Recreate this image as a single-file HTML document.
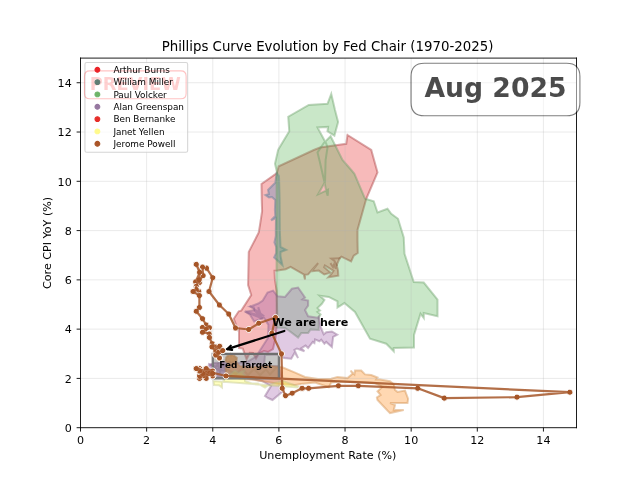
<!DOCTYPE html>
<html><head><meta charset="utf-8"><title>Phillips Curve</title>
<style>html,body{margin:0;padding:0;background:#fff}svg{display:block}</style></head>
<body>
<svg  width="640" height="480" viewBox="0 0 576 432" version="1.1">
 
 <defs>
  <style type="text/css">*{stroke-linejoin: round; stroke-linecap: butt}</style>
 </defs>
 <g id="figure_1">
  <g id="patch_1">
   <path d="M 0 432 
L 576 432 
L 576 0 
L 0 0 
z
" style="fill: #ffffff"/>
  </g>
  <g id="axes_1" transform="translate(0.450 0.450)">
   <g id="patch_2">
    <path d="M 72 384.48 
L 518.4 384.48 
L 518.4 51.84 
L 72 51.84 
z
" style="fill: #ffffff"/>
   </g>
   <g id="poly_burns">
    <path d="M 312.3 121.05 
L 333.675 134.55 
L 339.3 154.8 
L 329.175 178.425 
L 321.3 206.55 
L 321.3 215.55 
L 321.525 227.25 
L 317.925 229.59 
L 315.54 234.81 
L 306.81 230.58 
L 305.19 231.975 
L 302.625 238.14 
L 303.75 243.225 
L 304.02 247.725 
L 295.02 249.12 
L 297.81 246.06 
L 299.7 243.27 
L 291.96 238.41 
L 291.33 240.03 
L 297 244.89 
L 291.375 246.6 
L 286.425 243.09 
L 280.26 243.675 
L 285.84 236.34 
L 276.84 246.51 
L 274.05 246.825 
L 274.05 251.01 
L 272.925 246.51 
L 261.09 239.76 
L 256.725 241.875 
L 249.3 242.91 
L 246.6 243.225 
L 246.96 251.325 
L 248.625 261.45 
L 249.12 287.55 
L 247.5 303.75 
L 245.25 313.65 
L 240.75 316.35 
L 237.15 315.45 
L 232.65 317.7 
L 229.95 322.2 
L 227.25 317.25 
L 224.37 317.07 
L 221.49 323.01 
L 218.07 313.29 
L 214.65 312.84 
L 214.65 296.01 
L 213.84 296.55 
L 209.925 286.425 
L 214.425 279.675 
L 216.675 279.09 
L 225.675 265.05 
L 222.84 256.05 
L 223.425 226.26 
L 232.425 208.8 
L 233.55 202.05 
L 235.44 189.675 
L 235.125 179.55 
L 234.9 165.15 
L 248.76 155.34 
L 250.425 149.175 
L 281.925 134.55 
L 287.55 132.3 
L 311.175 128.925 
z
" clip-path="url(#pa79f2f6976)" style="fill: #e41a1c; fill-opacity: 0.3; stroke-opacity: 0.3"/>
   </g>
   <g id="line2d_1">
    <path d="M 312.3 121.05 
L 333.675 134.55 
L 339.3 154.8 
L 329.175 178.425 
L 321.3 206.55 
L 321.3 215.55 
L 321.525 227.25 
L 317.925 229.59 
L 315.54 234.81 
L 306.81 230.58 
L 305.19 231.975 
L 302.625 238.14 
L 303.75 243.225 
L 304.02 247.725 
L 295.02 249.12 
L 297.81 246.06 
L 299.7 243.27 
L 291.96 238.41 
L 291.33 240.03 
L 297 244.89 
L 291.375 246.6 
L 286.425 243.09 
L 280.26 243.675 
L 285.84 236.34 
L 276.84 246.51 
L 274.05 246.825 
L 274.05 251.01 
L 272.925 246.51 
L 261.09 239.76 
L 256.725 241.875 
L 249.3 242.91 
L 246.6 243.225 
L 246.96 251.325 
L 248.625 261.45 
L 249.12 287.55 
L 247.5 303.75 
L 245.25 313.65 
L 240.75 316.35 
L 237.15 315.45 
L 232.65 317.7 
L 229.95 322.2 
L 227.25 317.25 
L 224.37 317.07 
L 221.49 323.01 
L 218.07 313.29 
L 214.65 312.84 
L 214.65 296.01 
L 213.84 296.55 
L 209.925 286.425 
L 214.425 279.675 
L 216.675 279.09 
L 225.675 265.05 
L 222.84 256.05 
L 223.425 226.26 
L 232.425 208.8 
L 233.55 202.05 
L 235.44 189.675 
L 235.125 179.55 
L 234.9 165.15 
L 248.76 155.34 
L 250.425 149.175 
L 281.925 134.55 
L 287.55 132.3 
L 311.175 128.925 
L 312.3 121.05 
" clip-path="url(#pa79f2f6976)" style="fill: none; stroke: #a43536; stroke-opacity: 0.42; stroke-width: 1.8; stroke-linejoin: miter; stroke-linecap: square"/>
   </g>
   <g id="line2d_2">
    <path d="M 305.19 231.975 
L 297.81 232.29 
L 300.6 234.45 
L 302.625 238.14 
" clip-path="url(#pa79f2f6976)" style="fill: none; stroke: #a43536; stroke-opacity: 0.42; stroke-width: 1.8; stroke-linejoin: miter; stroke-linecap: square"/>
   </g>
   <g id="line2d_3">
    <path d="M 297.45 237.15 
L 299.25 239.85 
L 300.15 237.6 
L 301.5 240.75 
" clip-path="url(#pa79f2f6976)" style="fill: none; stroke: #a43536; stroke-opacity: 0.42; stroke-width: 1.8; stroke-linejoin: miter; stroke-linecap: square"/>
   </g>
   <g id="poly_miller">
    <path d="M 248.625 155.25 
L 247.275 164.025 
L 240.84 170.46 
L 241.56 174.15 
L 238.5 175.14 
L 241.56 177.21 
L 244.26 176.85 
L 247.275 179.55 
L 246.96 188.55 
L 247.275 193.95 
L 243.54 197.775 
L 247.95 195.75 
L 247.77 205.875 
L 247.77 211.95 
L 246.51 217.71 
L 248.13 221.85 
L 248.13 227.25 
L 246.24 231.21 
L 248.85 233.55 
L 253.71 238.14 
L 252 229.95 
L 252 226.35 
L 257.04 224.46 
L 252 221.85 
L 251.37 206.55 
L 251.19 179.55 
L 250.65 157.95 
z
" clip-path="url(#pa79f2f6976)" style="fill: #377eb8; fill-opacity: 0.3; stroke-opacity: 0.3"/>
   </g>
   <g id="line2d_4">
    <path d="M 248.625 155.25 
L 247.275 164.025 
L 240.84 170.46 
L 241.56 174.15 
L 238.5 175.14 
L 241.56 177.21 
L 244.26 176.85 
L 247.275 179.55 
L 246.96 188.55 
L 247.275 193.95 
L 243.54 197.775 
L 247.95 195.75 
L 247.77 205.875 
L 247.77 211.95 
L 246.51 217.71 
L 248.13 221.85 
L 248.13 227.25 
L 246.24 231.21 
L 248.85 233.55 
L 253.71 238.14 
L 252 229.95 
L 252 226.35 
L 257.04 224.46 
L 252 221.85 
L 251.37 206.55 
L 251.19 179.55 
L 250.65 157.95 
L 248.625 155.25 
" clip-path="url(#pa79f2f6976)" style="fill: none; stroke: #507797; stroke-opacity: 0.42; stroke-width: 1.8; stroke-linejoin: miter; stroke-linecap: square"/>
   </g>
   <g id="poly_volcker">
    <path d="M 248.49 158.85 
L 248.76 154.26 
L 247.05 146.925 
L 249.84 134.55 
L 250.425 133.425 
L 259.875 117.675 
L 258.975 104.625 
L 277.425 94.05 
L 294.3 92.925 
L 297.675 84.15 
L 301.05 98.55 
L 303.84 109.26 
L 300.51 121.59 
L 294.3 117.675 
L 294.84 113.76 
L 285.3 114.3 
L 293.175 128.925 
L 294.3 132.3 
L 292.59 143.55 
L 292.05 163.35 
L 285.84 174.42 
L 293.04 171.09 
L 294.75 170.19 
L 294.48 175.59 
L 293.04 171.09 
L 291.6 163.62 
L 287.01 143.55 
L 285.3 136.8 
L 290.925 128.34 
L 297.09 122.175 
L 301.05 130.05 
L 307.8 143.55 
L 315.675 152.55 
L 318.51 155.925 
L 328.05 178.425 
L 335.925 180.675 
L 339.3 190.8 
L 348.3 187.425 
L 351.675 191.925 
L 357.75 196.425 
L 362.925 213.3 
L 363.6 227.925 
L 371.925 253.35 
L 380.925 253.8 
L 393.3 269.1 
L 393.3 284.175 
L 380.925 281.25 
L 380.925 285.75 
L 378 281.925 
L 372.15 301.05 
L 372.15 312.3 
L 353.925 312.75 
L 353.925 315.675 
L 347.175 308.925 
L 332.55 304.425 
L 319.05 280.26 
L 309.51 272.34 
L 303.3 276.3 
L 303.3 270.675 
L 295.425 266.76 
L 287.19 265.68 
L 291.51 269.55 
L 289.26 272.925 
L 285.3 276.84 
L 287.55 279.09 
L 285.3 280.26 
L 288.09 282.51 
L 286.425 285.3 
L 286.425 296.55 
L 279.09 296.01 
L 276.84 299.34 
L 270.675 299.34 
L 267.84 303.3 
L 258.84 296.55 
L 256.05 294.84 
L 248.49 294.3 
z
" clip-path="url(#pa79f2f6976)" style="fill: #4daf4a; fill-opacity: 0.3; stroke-opacity: 0.3"/>
   </g>
   <g id="line2d_5">
    <path d="M 248.49 158.85 
L 248.76 154.26 
L 247.05 146.925 
L 249.84 134.55 
L 250.425 133.425 
L 259.875 117.675 
L 258.975 104.625 
L 277.425 94.05 
L 294.3 92.925 
L 297.675 84.15 
L 301.05 98.55 
L 303.84 109.26 
L 300.51 121.59 
L 294.3 117.675 
L 294.84 113.76 
L 285.3 114.3 
L 293.175 128.925 
L 294.3 132.3 
L 292.59 143.55 
L 292.05 163.35 
L 285.84 174.42 
L 293.04 171.09 
L 294.75 170.19 
L 294.48 175.59 
L 293.04 171.09 
L 291.6 163.62 
L 287.01 143.55 
L 285.3 136.8 
L 290.925 128.34 
L 297.09 122.175 
L 301.05 130.05 
L 307.8 143.55 
L 315.675 152.55 
L 318.51 155.925 
L 328.05 178.425 
L 335.925 180.675 
L 339.3 190.8 
L 348.3 187.425 
L 351.675 191.925 
L 357.75 196.425 
L 362.925 213.3 
L 363.6 227.925 
L 371.925 253.35 
L 380.925 253.8 
L 393.3 269.1 
L 393.3 284.175 
L 380.925 281.25 
L 380.925 285.75 
L 378 281.925 
L 372.15 301.05 
L 372.15 312.3 
L 353.925 312.75 
L 353.925 315.675 
L 347.175 308.925 
L 332.55 304.425 
L 319.05 280.26 
L 309.51 272.34 
L 303.3 276.3 
L 303.3 270.675 
L 295.425 266.76 
L 287.19 265.68 
L 291.51 269.55 
L 289.26 272.925 
L 285.3 276.84 
L 287.55 279.09 
L 285.3 280.26 
L 288.09 282.51 
L 286.425 285.3 
L 286.425 296.55 
L 279.09 296.01 
L 276.84 299.34 
L 270.675 299.34 
L 267.84 303.3 
L 258.84 296.55 
L 256.05 294.84 
L 248.49 294.3 
L 248.49 158.85 
" clip-path="url(#pa79f2f6976)" style="fill: none; stroke: #679d65; stroke-opacity: 0.42; stroke-width: 1.8; stroke-linejoin: miter; stroke-linecap: square"/>
   </g>
   <g id="poly_greenspan">
    <path d="M 220.5 280.125 
L 228.24 278.775 
L 227.925 276.075 
L 224.91 275.4 
L 231.975 272.7 
L 236.025 270 
L 240.3 262.8 
L 245.34 261.09 
L 249.3 266.175 
L 256.05 266.76 
L 262.26 259.425 
L 267.84 258.3 
L 274.05 267.3 
L 271.8 269.01 
L 276.84 270.09 
L 276.84 274.59 
L 274.05 278.55 
L 276.84 284.175 
L 285.3 285.525 
L 286.425 284.4 
L 288.09 293.76 
L 290.925 300.51 
L 293.175 298.575 
L 298.26 297.9 
L 303.075 300.825 
L 299.34 302.76 
L 298.26 311.76 
L 293.175 307.26 
L 291.51 308.925 
L 288.675 305.325 
L 287.01 306.675 
L 283.05 305.01 
L 282.51 308.34 
L 281.025 307.26 
L 276.84 312.84 
L 274.59 310.59 
L 270.675 312.84 
L 273.51 315.675 
L 266.76 313.2 
L 264.51 314.55 
L 267.84 321.84 
L 264.825 316.8 
L 261.675 322.425 
L 255.15 321.75 
L 252.45 318.6 
L 238.05 319.05 
L 237.15 328.95 
L 250.65 328.95 
L 252.45 337.05 
L 255.15 350.1 
L 253.35 352.35 
L 244.8 359.55 
L 240.75 357.75 
L 238.05 355.95 
L 243.45 346.95 
L 235.35 342.45 
L 226.35 340.65 
L 215.55 338.85 
L 208.35 337.95 
L 199.35 339.3 
L 190.35 338.85 
L 186.75 334.35 
L 187.2 328.95 
L 192.15 326.25 
L 204.75 325.35 
L 212.85 326.25 
L 221.85 325.35 
L 229.95 320.4 
L 240.84 303.57 
L 241.11 291.96 
L 237.15 285.75 
L 235.35 286.2 
L 228.24 288.9 
L 224.55 282.825 
z
" clip-path="url(#pa79f2f6976)" style="fill: #984ea3; fill-opacity: 0.3; stroke-opacity: 0.3"/>
   </g>
   <g id="line2d_6">
    <path d="M 220.5 280.125 
L 228.24 278.775 
L 227.925 276.075 
L 224.91 275.4 
L 231.975 272.7 
L 236.025 270 
L 240.3 262.8 
L 245.34 261.09 
L 249.3 266.175 
L 256.05 266.76 
L 262.26 259.425 
L 267.84 258.3 
L 274.05 267.3 
L 271.8 269.01 
L 276.84 270.09 
L 276.84 274.59 
L 274.05 278.55 
L 276.84 284.175 
L 285.3 285.525 
L 286.425 284.4 
L 288.09 293.76 
L 290.925 300.51 
L 293.175 298.575 
L 298.26 297.9 
L 303.075 300.825 
L 299.34 302.76 
L 298.26 311.76 
L 293.175 307.26 
L 291.51 308.925 
L 288.675 305.325 
L 287.01 306.675 
L 283.05 305.01 
L 282.51 308.34 
L 281.025 307.26 
L 276.84 312.84 
L 274.59 310.59 
L 270.675 312.84 
L 273.51 315.675 
L 266.76 313.2 
L 264.51 314.55 
L 267.84 321.84 
L 264.825 316.8 
L 261.675 322.425 
L 255.15 321.75 
L 252.45 318.6 
L 238.05 319.05 
L 237.15 328.95 
L 250.65 328.95 
L 252.45 337.05 
L 255.15 350.1 
L 253.35 352.35 
L 244.8 359.55 
L 240.75 357.75 
L 238.05 355.95 
L 243.45 346.95 
L 235.35 342.45 
L 226.35 340.65 
L 215.55 338.85 
L 208.35 337.95 
L 199.35 339.3 
L 190.35 338.85 
L 186.75 334.35 
L 187.2 328.95 
L 192.15 326.25 
L 204.75 325.35 
L 212.85 326.25 
L 221.85 325.35 
L 229.95 320.4 
L 240.84 303.57 
L 241.11 291.96 
L 237.15 285.75 
L 235.35 286.2 
L 228.24 288.9 
L 224.55 282.825 
L 220.5 280.125 
" clip-path="url(#pa79f2f6976)" style="fill: none; stroke: #855c8b; stroke-opacity: 0.42; stroke-width: 1.8; stroke-linejoin: miter; stroke-linecap: square"/>
   </g>
   <g id="patch_3">
    <path d="M 187.2 327.15 
L 192.15 325.8 
L 202.95 326.25 
L 203.85 332.55 
L 201.15 337.95 
L 191.25 338.4 
L 190.35 332.55 
z
" clip-path="url(#pa79f2f6976)" style="fill: #984ea3; opacity: 0.3"/>
   </g>
   <g id="line2d_7">
    <path d="M 187.65 327.15 
L 192.15 328.95 
L 190.8 333.45 
L 195.75 327.15 
L 197.55 334.35 
L 200.25 327.15 
L 202.5 333.45 
L 192.15 331.65 
L 202.95 329.85 
" clip-path="url(#pa79f2f6976)" style="fill: none; stroke: #855c8b; stroke-opacity: 0.42; stroke-width: 1.8; stroke-linejoin: miter; stroke-linecap: square"/>
   </g>
   <g id="line2d_8">
    <path d="M 224.91 275.4 
L 237.375 284.175 
L 228.24 278.775 
L 236.025 286.2 
L 220.5 280.125 
L 234.675 283.86 
L 231.975 276.075 
L 233.01 281.475 
" clip-path="url(#pa79f2f6976)" style="fill: none; stroke: #855c8b; stroke-opacity: 0.42; stroke-width: 1.8; stroke-linejoin: miter; stroke-linecap: square"/>
   </g>
   <g id="poly_bernanke">
    <path d="M 202.95 337.95 
L 202.5 330.75 
L 204.75 327.15 
L 202.5 323.55 
L 203.85 319.95 
L 208.35 319.05 
L 212.85 321.75 
L 211.95 325.35 
L 215.55 328.95 
L 224.55 329.85 
L 235.35 329.4 
L 244.35 328.95 
L 254.25 330.3 
L 266.175 335.34 
L 274.05 338.85 
L 285.75 340.65 
L 297.675 340.425 
L 303.3 338.76 
L 312.3 339.84 
L 316.8 335.925 
L 315.09 333.09 
L 318.51 336.51 
L 319.05 333.09 
L 324.675 333.09 
L 328.05 336.51 
L 333.675 337.05 
L 339.3 339.3 
L 338.175 341.01 
L 341.55 341.01 
L 350.55 342.675 
L 353.925 345.51 
L 355.05 350.55 
L 357.3 352.26 
L 364.05 351.09 
L 366.84 358.425 
L 366.3 362.34 
L 350.55 362.34 
L 355.05 364.05 
L 353.925 368.55 
L 362.925 368.55 
L 350.55 371.34 
L 348.3 369.09 
L 339.3 359.55 
L 338.76 357.3 
L 342.09 355.05 
L 339.3 351.675 
L 343.8 347.76 
L 337.05 344.25 
L 323.55 343.35 
L 305.55 342.9 
L 297.675 343.8 
L 295.425 348.075 
L 283.05 343.8 
L 270.45 345.15 
L 265.05 346.05 
L 250.65 345.15 
L 229.05 341.55 
L 215.55 340.2 
z
" clip-path="url(#pa79f2f6976)" style="fill: #ff7f00; fill-opacity: 0.3; stroke-opacity: 0.3"/>
   </g>
   <g id="line2d_9">
    <path d="M 202.95 337.95 
L 202.5 330.75 
L 204.75 327.15 
L 202.5 323.55 
L 203.85 319.95 
L 208.35 319.05 
L 212.85 321.75 
L 211.95 325.35 
L 215.55 328.95 
L 224.55 329.85 
L 235.35 329.4 
L 244.35 328.95 
L 254.25 330.3 
L 266.175 335.34 
L 274.05 338.85 
L 285.75 340.65 
L 297.675 340.425 
L 303.3 338.76 
L 312.3 339.84 
L 316.8 335.925 
L 315.09 333.09 
L 318.51 336.51 
L 319.05 333.09 
L 324.675 333.09 
L 328.05 336.51 
L 333.675 337.05 
L 339.3 339.3 
L 338.175 341.01 
L 341.55 341.01 
L 350.55 342.675 
L 353.925 345.51 
L 355.05 350.55 
L 357.3 352.26 
L 364.05 351.09 
L 366.84 358.425 
L 366.3 362.34 
L 350.55 362.34 
L 355.05 364.05 
L 353.925 368.55 
L 362.925 368.55 
L 350.55 371.34 
L 348.3 369.09 
L 339.3 359.55 
L 338.76 357.3 
L 342.09 355.05 
L 339.3 351.675 
L 343.8 347.76 
L 337.05 344.25 
L 323.55 343.35 
L 305.55 342.9 
L 297.675 343.8 
L 295.425 348.075 
L 283.05 343.8 
L 270.45 345.15 
L 265.05 346.05 
L 250.65 345.15 
L 229.05 341.55 
L 215.55 340.2 
L 202.95 337.95 
" clip-path="url(#pa79f2f6976)" style="fill: none; stroke: #d08a44; stroke-opacity: 0.42; stroke-width: 1.8; stroke-linejoin: miter; stroke-linecap: square"/>
   </g>
   <g id="patch_4">
    <path d="M 202.95 337.95 
L 202.5 330.75 
L 204.75 327.15 
L 202.5 323.55 
L 203.85 319.95 
L 208.35 319.05 
L 212.85 321.75 
L 211.95 325.35 
L 215.55 328.95 
L 224.55 329.85 
L 235.35 329.4 
L 244.35 328.95 
L 250.65 329.85 
L 250.65 339.75 
L 229.05 339.75 
L 215.55 339.3 
z
" clip-path="url(#pa79f2f6976)" style="fill: #ff7f00; opacity: 0.3"/>
   </g>
   <g id="patch_5">
    <path d="M 202.77 324.9 
L 202.95 321.3 
L 205.65 319.32 
L 209.25 319.05 
L 212.4 321.3 
L 212.4 324.9 
L 207.45 325.8 
z
" clip-path="url(#pa79f2f6976)" style="fill: #ff7f00; opacity: 0.3"/>
   </g>
   <g id="line2d_10">
    <path d="M 202.95 324.45 
L 204.75 320.85 
L 206.55 324.45 
L 207.45 319.5 
L 209.25 324.45 
L 210.6 320.4 
L 211.95 324.9 
L 208.35 322.65 
L 203.85 323.1 
L 211.95 322.65 
" clip-path="url(#pa79f2f6976)" style="fill: none; stroke: #d08a44; stroke-opacity: 0.42; stroke-width: 1.8; stroke-linejoin: miter; stroke-linecap: square"/>
   </g>
   <g id="line2d_11">
    <path d="M 204.75 332.55 
L 211.95 336.15 
L 217.35 331.2 
L 222.75 337.05 
L 228.15 331.65 
L 233.55 337.05 
L 238.95 332.1 
L 242.55 336.6 
L 247.95 330.75 
" clip-path="url(#pa79f2f6976)" style="fill: none; stroke: #d08a44; stroke-opacity: 0.42; stroke-width: 1.8; stroke-linejoin: miter; stroke-linecap: square"/>
   </g>
   <g id="line2d_12">
    <path d="M 202.77 324.9 
L 202.95 321.3 
L 205.65 319.32 
L 209.25 319.05 
L 212.4 321.3 
L 212.4 324.9 
L 207.45 325.8 
L 202.77 324.9 
" clip-path="url(#pa79f2f6976)" style="fill: none; stroke: #d08a44; stroke-opacity: 0.42; stroke-width: 1.8; stroke-linejoin: miter; stroke-linecap: square"/>
   </g>
   <g id="poly_yellen">
    <path d="M 270.99 348.57 
L 261.45 345.15 
L 254.25 342.45 
L 247.05 344.25 
L 240.75 346.5 
L 238.05 348.3 
L 235.35 346.95 
L 231.75 344.7 
L 226.35 344.7 
L 220.05 342.45 
L 220.05 337.5 
L 217.35 335.25 
L 220.05 333 
L 214.38 335.25 
L 211.05 333 
L 208.35 335.25 
L 202.5 339.75 
L 199.35 344.25 
L 199.35 348.3 
L 196.65 346.32 
L 192.15 346.05 
L 191.7 342.45 
z
" clip-path="url(#pa79f2f6976)" style="fill: #ffff33; fill-opacity: 0.3; stroke-opacity: 0.3"/>
   </g>
   <g id="line2d_13">
    <path d="M 270.99 348.57 
L 261.45 345.15 
L 254.25 342.45 
L 247.05 344.25 
L 240.75 346.5 
L 238.05 348.3 
L 235.35 346.95 
L 231.75 344.7 
L 226.35 344.7 
L 220.05 342.45 
L 220.05 337.5 
L 217.35 335.25 
L 220.05 333 
L 214.38 335.25 
L 211.05 333 
L 208.35 335.25 
L 202.5 339.75 
L 199.35 344.25 
L 199.35 348.3 
L 196.65 346.32 
L 192.15 346.05 
L 191.7 342.45 
L 270.99 348.57 
" clip-path="url(#pa79f2f6976)" style="fill: none; stroke: #bec384; stroke-opacity: 0.42; stroke-width: 1.8; stroke-linejoin: miter; stroke-linecap: square"/>
   </g>
   <g id="patch_6">
    <path d="M 191.04 340.128 
L 250.56 340.128 
L 250.56 317.952 
L 191.04 317.952 
z
" clip-path="url(#pa79f2f6976)" style="fill: #808080; fill-opacity: 0.45; stroke: #6e6e6e; stroke-width: 2; stroke-linejoin: miter"/>
   </g>
   <g id="matplotlib.axis_1">
    <g id="xtick_1">
     <g id="line2d_14">
      <path d="M 72 384.48 
L 72 51.84 
" clip-path="url(#pa79f2f6976)" style="fill: none; stroke: #b0b0b0; stroke-opacity: 0.3; stroke-width: 0.8; stroke-linecap: square"/>
     </g>
     <g id="line2d_15">
      <defs>
       <path id="m74b1d1c687" d="M 0 0 
L 0 3.5 
" style="stroke: #000000; stroke-width: 0.8"/>
      </defs>
      <g>
       <use href="#m74b1d1c687" x="72" y="384.48" style="stroke: #000000; stroke-width: 0.8"/>
      </g>
     </g>
     <g id="text_1">
      <text style="font-size: 10px; font-family: 'DejaVu Sans', 'Bitstream Vera Sans', 'Computer Modern Sans Serif', 'Lucida Grande', 'Verdana', 'Geneva', 'Lucid', 'Arial', 'Helvetica', 'Avant Garde', sans-serif; text-anchor: middle" x="72" y="399.078438" transform="rotate(-0 72 399.078438)">0</text>
     </g>
    </g>
    <g id="xtick_2">
     <g id="line2d_16">
      <path d="M 131.52 384.48 
L 131.52 51.84 
" clip-path="url(#pa79f2f6976)" style="fill: none; stroke: #b0b0b0; stroke-opacity: 0.3; stroke-width: 0.8; stroke-linecap: square"/>
     </g>
     <g id="line2d_17">
      <g>
       <use href="#m74b1d1c687" x="131.52" y="384.48" style="stroke: #000000; stroke-width: 0.8"/>
      </g>
     </g>
     <g id="text_2">
      <text style="font-size: 10px; font-family: 'DejaVu Sans', 'Bitstream Vera Sans', 'Computer Modern Sans Serif', 'Lucida Grande', 'Verdana', 'Geneva', 'Lucid', 'Arial', 'Helvetica', 'Avant Garde', sans-serif; text-anchor: middle" x="131.52" y="399.078438" transform="rotate(-0 131.52 399.078438)">2</text>
     </g>
    </g>
    <g id="xtick_3">
     <g id="line2d_18">
      <path d="M 191.04 384.48 
L 191.04 51.84 
" clip-path="url(#pa79f2f6976)" style="fill: none; stroke: #b0b0b0; stroke-opacity: 0.3; stroke-width: 0.8; stroke-linecap: square"/>
     </g>
     <g id="line2d_19">
      <g>
       <use href="#m74b1d1c687" x="191.04" y="384.48" style="stroke: #000000; stroke-width: 0.8"/>
      </g>
     </g>
     <g id="text_3">
      <text style="font-size: 10px; font-family: 'DejaVu Sans', 'Bitstream Vera Sans', 'Computer Modern Sans Serif', 'Lucida Grande', 'Verdana', 'Geneva', 'Lucid', 'Arial', 'Helvetica', 'Avant Garde', sans-serif; text-anchor: middle" x="191.04" y="399.078438" transform="rotate(-0 191.04 399.078438)">4</text>
     </g>
    </g>
    <g id="xtick_4">
     <g id="line2d_20">
      <path d="M 250.56 384.48 
L 250.56 51.84 
" clip-path="url(#pa79f2f6976)" style="fill: none; stroke: #b0b0b0; stroke-opacity: 0.3; stroke-width: 0.8; stroke-linecap: square"/>
     </g>
     <g id="line2d_21">
      <g>
       <use href="#m74b1d1c687" x="250.56" y="384.48" style="stroke: #000000; stroke-width: 0.8"/>
      </g>
     </g>
     <g id="text_4">
      <text style="font-size: 10px; font-family: 'DejaVu Sans', 'Bitstream Vera Sans', 'Computer Modern Sans Serif', 'Lucida Grande', 'Verdana', 'Geneva', 'Lucid', 'Arial', 'Helvetica', 'Avant Garde', sans-serif; text-anchor: middle" x="250.56" y="399.078438" transform="rotate(-0 250.56 399.078438)">6</text>
     </g>
    </g>
    <g id="xtick_5">
     <g id="line2d_22">
      <path d="M 310.08 384.48 
L 310.08 51.84 
" clip-path="url(#pa79f2f6976)" style="fill: none; stroke: #b0b0b0; stroke-opacity: 0.3; stroke-width: 0.8; stroke-linecap: square"/>
     </g>
     <g id="line2d_23">
      <g>
       <use href="#m74b1d1c687" x="310.08" y="384.48" style="stroke: #000000; stroke-width: 0.8"/>
      </g>
     </g>
     <g id="text_5">
      <text style="font-size: 10px; font-family: 'DejaVu Sans', 'Bitstream Vera Sans', 'Computer Modern Sans Serif', 'Lucida Grande', 'Verdana', 'Geneva', 'Lucid', 'Arial', 'Helvetica', 'Avant Garde', sans-serif; text-anchor: middle" x="310.08" y="399.078438" transform="rotate(-0 310.08 399.078438)">8</text>
     </g>
    </g>
    <g id="xtick_6">
     <g id="line2d_24">
      <path d="M 369.6 384.48 
L 369.6 51.84 
" clip-path="url(#pa79f2f6976)" style="fill: none; stroke: #b0b0b0; stroke-opacity: 0.3; stroke-width: 0.8; stroke-linecap: square"/>
     </g>
     <g id="line2d_25">
      <g>
       <use href="#m74b1d1c687" x="369.6" y="384.48" style="stroke: #000000; stroke-width: 0.8"/>
      </g>
     </g>
     <g id="text_6">
      <text style="font-size: 10px; font-family: 'DejaVu Sans', 'Bitstream Vera Sans', 'Computer Modern Sans Serif', 'Lucida Grande', 'Verdana', 'Geneva', 'Lucid', 'Arial', 'Helvetica', 'Avant Garde', sans-serif; text-anchor: middle" x="369.6" y="399.078438" transform="rotate(-0 369.6 399.078438)">10</text>
     </g>
    </g>
    <g id="xtick_7">
     <g id="line2d_26">
      <path d="M 429.12 384.48 
L 429.12 51.84 
" clip-path="url(#pa79f2f6976)" style="fill: none; stroke: #b0b0b0; stroke-opacity: 0.3; stroke-width: 0.8; stroke-linecap: square"/>
     </g>
     <g id="line2d_27">
      <g>
       <use href="#m74b1d1c687" x="429.12" y="384.48" style="stroke: #000000; stroke-width: 0.8"/>
      </g>
     </g>
     <g id="text_7">
      <text style="font-size: 10px; font-family: 'DejaVu Sans', 'Bitstream Vera Sans', 'Computer Modern Sans Serif', 'Lucida Grande', 'Verdana', 'Geneva', 'Lucid', 'Arial', 'Helvetica', 'Avant Garde', sans-serif; text-anchor: middle" x="429.12" y="399.078438" transform="rotate(-0 429.12 399.078438)">12</text>
     </g>
    </g>
    <g id="xtick_8">
     <g id="line2d_28">
      <path d="M 488.64 384.48 
L 488.64 51.84 
" clip-path="url(#pa79f2f6976)" style="fill: none; stroke: #b0b0b0; stroke-opacity: 0.3; stroke-width: 0.8; stroke-linecap: square"/>
     </g>
     <g id="line2d_29">
      <g>
       <use href="#m74b1d1c687" x="488.64" y="384.48" style="stroke: #000000; stroke-width: 0.8"/>
      </g>
     </g>
     <g id="text_8">
      <text style="font-size: 10px; font-family: 'DejaVu Sans', 'Bitstream Vera Sans', 'Computer Modern Sans Serif', 'Lucida Grande', 'Verdana', 'Geneva', 'Lucid', 'Arial', 'Helvetica', 'Avant Garde', sans-serif; text-anchor: middle" x="488.64" y="399.078438" transform="rotate(-0 488.64 399.078438)">14</text>
     </g>
    </g>
    <g id="text_9">
     <text style="font-size: 10px; font-family: 'DejaVu Sans', 'Bitstream Vera Sans', 'Computer Modern Sans Serif', 'Lucida Grande', 'Verdana', 'Geneva', 'Lucid', 'Arial', 'Helvetica', 'Avant Garde', sans-serif; text-anchor: middle" x="294.57504" y="412.756563" transform="rotate(-0 294.57504 412.756563)">Unemployment Rate (%)</text>
    </g>
   </g>
   <g id="matplotlib.axis_2">
    <g id="ytick_1">
     <g id="line2d_30">
      <path d="M 72 384.48 
L 518.4 384.48 
" clip-path="url(#pa79f2f6976)" style="fill: none; stroke: #b0b0b0; stroke-opacity: 0.3; stroke-width: 0.8; stroke-linecap: square"/>
     </g>
     <g id="line2d_31">
      <defs>
       <path id="m5087340eee" d="M 0 0 
L -3.5 0 
" style="stroke: #000000; stroke-width: 0.8"/>
      </defs>
      <g>
       <use href="#m5087340eee" x="72" y="384.48" style="stroke: #000000; stroke-width: 0.8"/>
      </g>
     </g>
     <g id="text_10">
      <text style="font-size: 10px; font-family: 'DejaVu Sans', 'Bitstream Vera Sans', 'Computer Modern Sans Serif', 'Lucida Grande', 'Verdana', 'Geneva', 'Lucid', 'Arial', 'Helvetica', 'Avant Garde', sans-serif; text-anchor: end" x="64.1" y="388.279219" transform="rotate(-0 64.1 388.279219)">0</text>
     </g>
    </g>
    <g id="ytick_2">
     <g id="line2d_32">
      <path d="M 72 340.128 
L 518.4 340.128 
" clip-path="url(#pa79f2f6976)" style="fill: none; stroke: #b0b0b0; stroke-opacity: 0.3; stroke-width: 0.8; stroke-linecap: square"/>
     </g>
     <g id="line2d_33">
      <g>
       <use href="#m5087340eee" x="72" y="340.128" style="stroke: #000000; stroke-width: 0.8"/>
      </g>
     </g>
     <g id="text_11">
      <text style="font-size: 10px; font-family: 'DejaVu Sans', 'Bitstream Vera Sans', 'Computer Modern Sans Serif', 'Lucida Grande', 'Verdana', 'Geneva', 'Lucid', 'Arial', 'Helvetica', 'Avant Garde', sans-serif; text-anchor: end" x="64.1" y="343.927219" transform="rotate(-0 64.1 343.927219)">2</text>
     </g>
    </g>
    <g id="ytick_3">
     <g id="line2d_34">
      <path d="M 72 295.776 
L 518.4 295.776 
" clip-path="url(#pa79f2f6976)" style="fill: none; stroke: #b0b0b0; stroke-opacity: 0.3; stroke-width: 0.8; stroke-linecap: square"/>
     </g>
     <g id="line2d_35">
      <g>
       <use href="#m5087340eee" x="72" y="295.776" style="stroke: #000000; stroke-width: 0.8"/>
      </g>
     </g>
     <g id="text_12">
      <text style="font-size: 10px; font-family: 'DejaVu Sans', 'Bitstream Vera Sans', 'Computer Modern Sans Serif', 'Lucida Grande', 'Verdana', 'Geneva', 'Lucid', 'Arial', 'Helvetica', 'Avant Garde', sans-serif; text-anchor: end" x="64.1" y="299.575219" transform="rotate(-0 64.1 299.575219)">4</text>
     </g>
    </g>
    <g id="ytick_4">
     <g id="line2d_36">
      <path d="M 72 251.424 
L 518.4 251.424 
" clip-path="url(#pa79f2f6976)" style="fill: none; stroke: #b0b0b0; stroke-opacity: 0.3; stroke-width: 0.8; stroke-linecap: square"/>
     </g>
     <g id="line2d_37">
      <g>
       <use href="#m5087340eee" x="72" y="251.424" style="stroke: #000000; stroke-width: 0.8"/>
      </g>
     </g>
     <g id="text_13">
      <text style="font-size: 10px; font-family: 'DejaVu Sans', 'Bitstream Vera Sans', 'Computer Modern Sans Serif', 'Lucida Grande', 'Verdana', 'Geneva', 'Lucid', 'Arial', 'Helvetica', 'Avant Garde', sans-serif; text-anchor: end" x="64.1" y="255.223219" transform="rotate(-0 64.1 255.223219)">6</text>
     </g>
    </g>
    <g id="ytick_5">
     <g id="line2d_38">
      <path d="M 72 207.072 
L 518.4 207.072 
" clip-path="url(#pa79f2f6976)" style="fill: none; stroke: #b0b0b0; stroke-opacity: 0.3; stroke-width: 0.8; stroke-linecap: square"/>
     </g>
     <g id="line2d_39">
      <g>
       <use href="#m5087340eee" x="72" y="207.072" style="stroke: #000000; stroke-width: 0.8"/>
      </g>
     </g>
     <g id="text_14">
      <text style="font-size: 10px; font-family: 'DejaVu Sans', 'Bitstream Vera Sans', 'Computer Modern Sans Serif', 'Lucida Grande', 'Verdana', 'Geneva', 'Lucid', 'Arial', 'Helvetica', 'Avant Garde', sans-serif; text-anchor: end" x="64.1" y="210.871219" transform="rotate(-0 64.1 210.871219)">8</text>
     </g>
    </g>
    <g id="ytick_6">
     <g id="line2d_40">
      <path d="M 72 162.72 
L 518.4 162.72 
" clip-path="url(#pa79f2f6976)" style="fill: none; stroke: #b0b0b0; stroke-opacity: 0.3; stroke-width: 0.8; stroke-linecap: square"/>
     </g>
     <g id="line2d_41">
      <g>
       <use href="#m5087340eee" x="72" y="162.72" style="stroke: #000000; stroke-width: 0.8"/>
      </g>
     </g>
     <g id="text_15">
      <text style="font-size: 10px; font-family: 'DejaVu Sans', 'Bitstream Vera Sans', 'Computer Modern Sans Serif', 'Lucida Grande', 'Verdana', 'Geneva', 'Lucid', 'Arial', 'Helvetica', 'Avant Garde', sans-serif; text-anchor: end" x="64.1" y="166.519219" transform="rotate(-0 64.1 166.519219)">10</text>
     </g>
    </g>
    <g id="ytick_7">
     <g id="line2d_42">
      <path d="M 72 118.368 
L 518.4 118.368 
" clip-path="url(#pa79f2f6976)" style="fill: none; stroke: #b0b0b0; stroke-opacity: 0.3; stroke-width: 0.8; stroke-linecap: square"/>
     </g>
     <g id="line2d_43">
      <g>
       <use href="#m5087340eee" x="72" y="118.368" style="stroke: #000000; stroke-width: 0.8"/>
      </g>
     </g>
     <g id="text_16">
      <text style="font-size: 10px; font-family: 'DejaVu Sans', 'Bitstream Vera Sans', 'Computer Modern Sans Serif', 'Lucida Grande', 'Verdana', 'Geneva', 'Lucid', 'Arial', 'Helvetica', 'Avant Garde', sans-serif; text-anchor: end" x="64.1" y="122.167219" transform="rotate(-0 64.1 122.167219)">12</text>
     </g>
    </g>
    <g id="ytick_8">
     <g id="line2d_44">
      <path d="M 72 74.016 
L 518.4 74.016 
" clip-path="url(#pa79f2f6976)" style="fill: none; stroke: #b0b0b0; stroke-opacity: 0.3; stroke-width: 0.8; stroke-linecap: square"/>
     </g>
     <g id="line2d_45">
      <g>
       <use href="#m5087340eee" x="72" y="74.016" style="stroke: #000000; stroke-width: 0.8"/>
      </g>
     </g>
     <g id="text_17">
      <text style="font-size: 10px; font-family: 'DejaVu Sans', 'Bitstream Vera Sans', 'Computer Modern Sans Serif', 'Lucida Grande', 'Verdana', 'Geneva', 'Lucid', 'Arial', 'Helvetica', 'Avant Garde', sans-serif; text-anchor: end" x="64.1" y="77.815219" transform="rotate(-0 64.1 77.815219)">14</text>
     </g>
    </g>
    <g id="text_18">
     <text style="font-size: 10px; font-family: 'DejaVu Sans', 'Bitstream Vera Sans', 'Computer Modern Sans Serif', 'Lucida Grande', 'Verdana', 'Geneva', 'Lucid', 'Arial', 'Helvetica', 'Avant Garde', sans-serif; text-anchor: middle" x="45.195312" y="218.16" transform="rotate(-90 45.195312 218.16)">Core CPI YoY (%)</text>
    </g>
   </g>
   <g id="PathCollection_1">
    <defs>
     <path id="mc5816dc0cf" d="M 0 2.738613 
C 0.726289 2.738613 1.422928 2.450055 1.936492 1.936492 
C 2.450055 1.422928 2.738613 0.726289 2.738613 0 
C 2.738613 -0.726289 2.450055 -1.422928 1.936492 -1.936492 
C 1.422928 -2.450055 0.726289 -2.738613 0 -2.738613 
C -0.726289 -2.738613 -1.422928 -2.450055 -1.936492 -1.936492 
C -2.450055 -1.422928 -2.738613 -0.726289 -2.738613 0 
C -2.738613 0.726289 -2.450055 1.422928 -1.936492 1.936492 
C -1.422928 2.450055 -0.726289 2.738613 0 2.738613 
z
" style="stroke: #ffffff; stroke-width: 0.9"/>
    </defs>
    <g clip-path="url(#pa79f2f6976)">
     <use href="#mc5816dc0cf" x="191.04" y="337.9104" style="fill: #a65628; stroke: #ffffff; stroke-width: 0.9"/>
     <use href="#mc5816dc0cf" x="191.04" y="337.9104" style="fill: #a65628; stroke: #ffffff; stroke-width: 0.9"/>
     <use href="#mc5816dc0cf" x="185.088" y="335.6928" style="fill: #a65628; stroke: #ffffff; stroke-width: 0.9"/>
     <use href="#mc5816dc0cf" x="191.04" y="333.4752" style="fill: #a65628; stroke: #ffffff; stroke-width: 0.9"/>
     <use href="#mc5816dc0cf" x="185.088" y="331.2576" style="fill: #a65628; stroke: #ffffff; stroke-width: 0.9"/>
     <use href="#mc5816dc0cf" x="185.088" y="335.6928" style="fill: #a65628; stroke: #ffffff; stroke-width: 0.9"/>
     <use href="#mc5816dc0cf" x="182.112" y="335.6928" style="fill: #a65628; stroke: #ffffff; stroke-width: 0.9"/>
     <use href="#mc5816dc0cf" x="185.088" y="337.9104" style="fill: #a65628; stroke: #ffffff; stroke-width: 0.9"/>
     <use href="#mc5816dc0cf" x="185.088" y="335.6928" style="fill: #a65628; stroke: #ffffff; stroke-width: 0.9"/>
     <use href="#mc5816dc0cf" x="188.064" y="335.6928" style="fill: #a65628; stroke: #ffffff; stroke-width: 0.9"/>
     <use href="#mc5816dc0cf" x="191.04" y="335.6928" style="fill: #a65628; stroke: #ffffff; stroke-width: 0.9"/>
     <use href="#mc5816dc0cf" x="185.088" y="337.9104" style="fill: #a65628; stroke: #ffffff; stroke-width: 0.9"/>
     <use href="#mc5816dc0cf" x="185.088" y="340.128" style="fill: #a65628; stroke: #ffffff; stroke-width: 0.9"/>
     <use href="#mc5816dc0cf" x="182.112" y="337.9104" style="fill: #a65628; stroke: #ffffff; stroke-width: 0.9"/>
     <use href="#mc5816dc0cf" x="179.136" y="340.128" style="fill: #a65628; stroke: #ffffff; stroke-width: 0.9"/>
     <use href="#mc5816dc0cf" x="179.136" y="337.9104" style="fill: #a65628; stroke: #ffffff; stroke-width: 0.9"/>
     <use href="#mc5816dc0cf" x="182.112" y="335.6928" style="fill: #a65628; stroke: #ffffff; stroke-width: 0.9"/>
     <use href="#mc5816dc0cf" x="179.136" y="331.2576" style="fill: #a65628; stroke: #ffffff; stroke-width: 0.9"/>
     <use href="#mc5816dc0cf" x="176.16" y="331.2576" style="fill: #a65628; stroke: #ffffff; stroke-width: 0.9"/>
     <use href="#mc5816dc0cf" x="179.136" y="333.4752" style="fill: #a65628; stroke: #ffffff; stroke-width: 0.9"/>
     <use href="#mc5816dc0cf" x="179.136" y="333.4752" style="fill: #a65628; stroke: #ffffff; stroke-width: 0.9"/>
     <use href="#mc5816dc0cf" x="179.136" y="333.4752" style="fill: #a65628; stroke: #ffffff; stroke-width: 0.9"/>
     <use href="#mc5816dc0cf" x="179.136" y="333.4752" style="fill: #a65628; stroke: #ffffff; stroke-width: 0.9"/>
     <use href="#mc5816dc0cf" x="176.16" y="331.2576" style="fill: #a65628; stroke: #ffffff; stroke-width: 0.9"/>
     <use href="#mc5816dc0cf" x="202.944" y="337.9104" style="fill: #a65628; stroke: #ffffff; stroke-width: 0.9"/>
     <use href="#mc5816dc0cf" x="512.448" y="352.54656" style="fill: #a65628; stroke: #ffffff; stroke-width: 0.9"/>
     <use href="#mc5816dc0cf" x="464.832" y="356.98176" style="fill: #a65628; stroke: #ffffff; stroke-width: 0.9"/>
     <use href="#mc5816dc0cf" x="399.36" y="357.8688" style="fill: #a65628; stroke: #ffffff; stroke-width: 0.9"/>
     <use href="#mc5816dc0cf" x="375.552" y="348.9984" style="fill: #a65628; stroke: #ffffff; stroke-width: 0.9"/>
     <use href="#mc5816dc0cf" x="321.984" y="346.7808" style="fill: #a65628; stroke: #ffffff; stroke-width: 0.9"/>
     <use href="#mc5816dc0cf" x="304.128" y="346.7808" style="fill: #a65628; stroke: #ffffff; stroke-width: 0.9"/>
     <use href="#mc5816dc0cf" x="277.344" y="348.9984" style="fill: #a65628; stroke: #ffffff; stroke-width: 0.9"/>
     <use href="#mc5816dc0cf" x="271.392" y="348.9984" style="fill: #a65628; stroke: #ffffff; stroke-width: 0.9"/>
     <use href="#mc5816dc0cf" x="271.392" y="348.9984" style="fill: #a65628; stroke: #ffffff; stroke-width: 0.9"/>
     <use href="#mc5816dc0cf" x="262.464" y="353.4336" style="fill: #a65628; stroke: #ffffff; stroke-width: 0.9"/>
     <use href="#mc5816dc0cf" x="256.512" y="355.6512" style="fill: #a65628; stroke: #ffffff; stroke-width: 0.9"/>
     <use href="#mc5816dc0cf" x="253.536" y="348.9984" style="fill: #a65628; stroke: #ffffff; stroke-width: 0.9"/>
     <use href="#mc5816dc0cf" x="252.9" y="318.06" style="fill: #a65628; stroke: #ffffff; stroke-width: 0.9"/>
     <use href="#mc5816dc0cf" x="244.26" y="299.52" style="fill: #a65628; stroke: #ffffff; stroke-width: 0.9"/>
     <use href="#mc5816dc0cf" x="247.5" y="285.3" style="fill: #a65628; stroke: #ffffff; stroke-width: 0.9"/>
     <use href="#mc5816dc0cf" x="232.425" y="290.475" style="fill: #a65628; stroke: #ffffff; stroke-width: 0.9"/>
     <use href="#mc5816dc0cf" x="223.425" y="296.1" style="fill: #a65628; stroke: #ffffff; stroke-width: 0.9"/>
     <use href="#mc5816dc0cf" x="211.5" y="294.75" style="fill: #a65628; stroke: #ffffff; stroke-width: 0.9"/>
     <use href="#mc5816dc0cf" x="205.425" y="282.15" style="fill: #a65628; stroke: #ffffff; stroke-width: 0.9"/>
     <use href="#mc5816dc0cf" x="197.01" y="274.05" style="fill: #a65628; stroke: #ffffff; stroke-width: 0.9"/>
     <use href="#mc5816dc0cf" x="187.65" y="261.9" style="fill: #a65628; stroke: #ffffff; stroke-width: 0.9"/>
     <use href="#mc5816dc0cf" x="191.025" y="249.525" style="fill: #a65628; stroke: #ffffff; stroke-width: 0.9"/>
     <use href="#mc5816dc0cf" x="185.4" y="240.84" style="fill: #a65628; stroke: #ffffff; stroke-width: 0.9"/>
     <use href="#mc5816dc0cf" x="181.8" y="239.94" style="fill: #a65628; stroke: #ffffff; stroke-width: 0.9"/>
     <use href="#mc5816dc0cf" x="182.34" y="247.59" style="fill: #a65628; stroke: #ffffff; stroke-width: 0.9"/>
     <use href="#mc5816dc0cf" x="179.01" y="252.09" style="fill: #a65628; stroke: #ffffff; stroke-width: 0.9"/>
     <use href="#mc5816dc0cf" x="179.01" y="253.8" style="fill: #a65628; stroke: #ffffff; stroke-width: 0.9"/>
     <use href="#mc5816dc0cf" x="175.59" y="253.26" style="fill: #a65628; stroke: #ffffff; stroke-width: 0.9"/>
     <use href="#mc5816dc0cf" x="179.55" y="244.26" style="fill: #a65628; stroke: #ffffff; stroke-width: 0.9"/>
     <use href="#mc5816dc0cf" x="176.175" y="237.51" style="fill: #a65628; stroke: #ffffff; stroke-width: 0.9"/>
     <use href="#mc5816dc0cf" x="179.19" y="244.62" style="fill: #a65628; stroke: #ffffff; stroke-width: 0.9"/>
     <use href="#mc5816dc0cf" x="178.83" y="251.46" style="fill: #a65628; stroke: #ffffff; stroke-width: 0.9"/>
     <use href="#mc5816dc0cf" x="176.175" y="257.175" style="fill: #a65628; stroke: #ffffff; stroke-width: 0.9"/>
     <use href="#mc5816dc0cf" x="175.95" y="259.65" style="fill: #a65628; stroke: #ffffff; stroke-width: 0.9"/>
     <use href="#mc5816dc0cf" x="178.425" y="261.675" style="fill: #a65628; stroke: #ffffff; stroke-width: 0.9"/>
     <use href="#mc5816dc0cf" x="176.13" y="260.1" style="fill: #a65628; stroke: #ffffff; stroke-width: 0.9"/>
     <use href="#mc5816dc0cf" x="173.34" y="261.9" style="fill: #a65628; stroke: #ffffff; stroke-width: 0.9"/>
     <use href="#mc5816dc0cf" x="179.01" y="265.59" style="fill: #a65628; stroke: #ffffff; stroke-width: 0.9"/>
     <use href="#mc5816dc0cf" x="179.01" y="276.3" style="fill: #a65628; stroke: #ffffff; stroke-width: 0.9"/>
     <use href="#mc5816dc0cf" x="176.175" y="279.675" style="fill: #a65628; stroke: #ffffff; stroke-width: 0.9"/>
     <use href="#mc5816dc0cf" x="181.8" y="286.425" style="fill: #a65628; stroke: #ffffff; stroke-width: 0.9"/>
     <use href="#mc5816dc0cf" x="185.175" y="292.05" style="fill: #a65628; stroke: #ffffff; stroke-width: 0.9"/>
     <use href="#mc5816dc0cf" x="188.01" y="294.525" style="fill: #a65628; stroke: #ffffff; stroke-width: 0.9"/>
     <use href="#mc5816dc0cf" x="181.8" y="294.3" style="fill: #a65628; stroke: #ffffff; stroke-width: 0.9"/>
     <use href="#mc5816dc0cf" x="185.175" y="296.1" style="fill: #a65628; stroke: #ffffff; stroke-width: 0.9"/>
     <use href="#mc5816dc0cf" x="181.8" y="298.575" style="fill: #a65628; stroke: #ffffff; stroke-width: 0.9"/>
     <use href="#mc5816dc0cf" x="187.65" y="299.7" style="fill: #a65628; stroke: #ffffff; stroke-width: 0.9"/>
     <use href="#mc5816dc0cf" x="187.83" y="300.15" style="fill: #a65628; stroke: #ffffff; stroke-width: 0.9"/>
     <use href="#mc5816dc0cf" x="188.01" y="303.3" style="fill: #a65628; stroke: #ffffff; stroke-width: 0.9"/>
     <use href="#mc5816dc0cf" x="190.575" y="308.925" style="fill: #a65628; stroke: #ffffff; stroke-width: 0.9"/>
     <use href="#mc5816dc0cf" x="193.59" y="311.76" style="fill: #a65628; stroke: #ffffff; stroke-width: 0.9"/>
     <use href="#mc5816dc0cf" x="197.325" y="311.85" style="fill: #a65628; stroke: #ffffff; stroke-width: 0.9"/>
     <use href="#mc5816dc0cf" x="197.19" y="313.2" style="fill: #a65628; stroke: #ffffff; stroke-width: 0.9"/>
     <use href="#mc5816dc0cf" x="193.77" y="311.4" style="fill: #a65628; stroke: #ffffff; stroke-width: 0.9"/>
     <use href="#mc5816dc0cf" x="193.95" y="311.85" style="fill: #a65628; stroke: #ffffff; stroke-width: 0.9"/>
     <use href="#mc5816dc0cf" x="197.325" y="311.175" style="fill: #a65628; stroke: #ffffff; stroke-width: 0.9"/>
     <use href="#mc5816dc0cf" x="193.59" y="314.55" style="fill: #a65628; stroke: #ffffff; stroke-width: 0.9"/>
     <use href="#mc5816dc0cf" x="190.26" y="311.76" style="fill: #a65628; stroke: #ffffff; stroke-width: 0.9"/>
     <use href="#mc5816dc0cf" x="193.77" y="316.35" style="fill: #a65628; stroke: #ffffff; stroke-width: 0.9"/>
     <use href="#mc5816dc0cf" x="197.19" y="321.84" style="fill: #a65628; stroke: #ffffff; stroke-width: 0.9"/>
     <use href="#mc5816dc0cf" x="197.325" y="322.02" style="fill: #a65628; stroke: #ffffff; stroke-width: 0.9"/>
     <use href="#mc5816dc0cf" x="197.1" y="321.75" style="fill: #a65628; stroke: #ffffff; stroke-width: 0.9"/>
     <use href="#mc5816dc0cf" x="193.59" y="319.05" style="fill: #a65628; stroke: #ffffff; stroke-width: 0.9"/>
     <use href="#mc5816dc0cf" x="196.425" y="316.62" style="fill: #a65628; stroke: #ffffff; stroke-width: 0.9"/>
     <use href="#mc5816dc0cf" x="200.025" y="315.09" style="fill: #a65628; stroke: #ffffff; stroke-width: 0.9"/>
    </g>
   </g>
   <g id="patch_7">
    <path d="M 72 384.48 
L 72 51.84 
" style="fill: none; stroke: #000000; stroke-width: 0.8; stroke-linejoin: miter; stroke-linecap: square"/>
   </g>
   <g id="patch_8">
    <path d="M 518.4 384.48 
L 518.4 51.84 
" style="fill: none; stroke: #000000; stroke-width: 0.8; stroke-linejoin: miter; stroke-linecap: square"/>
   </g>
   <g id="patch_9">
    <path d="M 72 384.48 
L 518.4 384.48 
" style="fill: none; stroke: #000000; stroke-width: 0.8; stroke-linejoin: miter; stroke-linecap: square"/>
   </g>
   <g id="patch_10">
    <path d="M 72 51.84 
L 518.4 51.84 
" style="fill: none; stroke: #000000; stroke-width: 0.8; stroke-linejoin: miter; stroke-linecap: square"/>
   </g>
   <g id="line2d_46">
    <path d="M 191.04 337.9104 
L 191.04 337.9104 
L 185.088 335.6928 
L 191.04 333.4752 
L 185.088 331.2576 
L 185.088 335.6928 
L 182.112 335.6928 
L 185.088 337.9104 
L 185.088 335.6928 
L 188.064 335.6928 
L 191.04 335.6928 
L 185.088 337.9104 
L 185.088 340.128 
L 182.112 337.9104 
L 179.136 340.128 
L 179.136 337.9104 
L 182.112 335.6928 
L 179.136 331.2576 
L 176.16 331.2576 
L 179.136 333.4752 
L 179.136 333.4752 
L 179.136 333.4752 
L 179.136 333.4752 
L 176.16 331.2576 
L 202.944 337.9104 
L 512.448 352.54656 
L 464.832 356.98176 
L 399.36 357.8688 
L 375.552 348.9984 
L 321.984 346.7808 
L 304.128 346.7808 
L 277.344 348.9984 
L 271.392 348.9984 
L 271.392 348.9984 
L 262.464 353.4336 
L 256.512 355.6512 
L 253.536 348.9984 
L 252.9 318.06 
L 244.26 299.52 
L 247.5 285.3 
L 232.425 290.475 
L 223.425 296.1 
L 211.5 294.75 
L 205.425 282.15 
L 197.01 274.05 
L 187.65 261.9 
L 191.025 249.525 
L 185.4 240.84 
L 181.8 239.94 
L 182.34 247.59 
L 179.01 252.09 
L 179.01 253.8 
L 175.59 253.26 
L 179.55 244.26 
L 176.175 237.51 
L 179.19 244.62 
L 178.83 251.46 
L 176.175 257.175 
L 175.95 259.65 
L 178.425 261.675 
L 176.13 260.1 
L 173.34 261.9 
L 179.01 265.59 
L 179.01 276.3 
L 176.175 279.675 
L 181.8 286.425 
L 185.175 292.05 
L 188.01 294.525 
L 181.8 294.3 
L 185.175 296.1 
L 181.8 298.575 
L 187.65 299.7 
L 187.83 300.15 
L 188.01 303.3 
L 190.575 308.925 
L 193.59 311.76 
L 197.325 311.85 
L 197.19 313.2 
L 193.77 311.4 
L 193.95 311.85 
L 197.325 311.175 
L 193.59 314.55 
L 190.26 311.76 
L 193.77 316.35 
L 197.19 321.84 
L 197.325 322.02 
L 197.1 321.75 
L 193.59 319.05 
L 196.425 316.62 
L 200.025 315.09 
" clip-path="url(#pa79f2f6976)" style="fill: none; stroke: #a65628; stroke-opacity: 0.85; stroke-width: 2; stroke-linecap: square"/>
   </g>
   <g id="text_19">
    <text style="font-weight: 700; font-size: 8px; font-family: 'DejaVu Sans', 'Bitstream Vera Sans', 'Computer Modern Sans Serif', 'Lucida Grande', 'Verdana', 'Geneva', 'Lucid', 'Arial', 'Helvetica', 'Avant Garde', sans-serif; text-anchor: middle" x="220.8" y="330.55097" transform="rotate(-0 220.8 330.55097)">Fed Target</text>
   </g>
   <g id="patch_11">
    <path d="M 255.465629 297.436269 
Q 228.697862 305.959819 204.060751 313.804912 
" style="fill: none; stroke: #000000; stroke-width: 2; stroke-linecap: round"/>
    <path d="M 208.479015 314.49697 
L 204.060751 313.804912 
L 207.265356 310.685536 
" style="fill: none; stroke: #000000; stroke-width: 2; stroke-linecap: round"/>
   </g>
   <g id="text_20">
    <text style="font-weight: 700; font-size: 10px; font-family: 'DejaVu Sans', 'Bitstream Vera Sans', 'Computer Modern Sans Serif', 'Lucida Grande', 'Verdana', 'Geneva', 'Lucid', 'Arial', 'Helvetica', 'Avant Garde', sans-serif; text-anchor: start" x="244.608" y="292.7484" transform="rotate(-0 244.608 292.7484)">We are here</text>
   </g>
   <g id="text_21">
    <g id="patch_12">
     <path d="M 381.4845 103.6995 
L 509.472 103.6995 
Q 521.472 103.6995 521.472 91.6995 
L 521.472 68.472 
Q 521.472 56.472 509.472 56.472 
L 381.4845 56.472 
Q 369.4845 56.472 369.4845 68.472 
L 369.4845 91.6995 
Q 369.4845 103.6995 381.4845 103.6995 
z
" style="fill: #ffffff; opacity: 0.5; stroke: #000000; stroke-linejoin: miter"/>
    </g>
    <text style="font-weight: 700; font-size: 24px; font-family: 'DejaVu Sans', 'Bitstream Vera Sans', 'Computer Modern Sans Serif', 'Lucida Grande', 'Verdana', 'Geneva', 'Lucid', 'Arial', 'Helvetica', 'Avant Garde', sans-serif; text-anchor: end; opacity: 0.7" x="509.472" y="86.52075" transform="rotate(-0 509.472 86.52075)">Aug 2025</text>
   </g>
   <g id="text_22">
    <text style="font-size: 12px; font-family: 'DejaVu Sans', 'Bitstream Vera Sans', 'Computer Modern Sans Serif', 'Lucida Grande', 'Verdana', 'Geneva', 'Lucid', 'Arial', 'Helvetica', 'Avant Garde', sans-serif; text-anchor: middle" x="294.3072" y="45.84" transform="rotate(-0 294.3072 45.84)">Phillips Curve Evolution by Fed Chair (1970-2025)</text>
   </g>
   <g id="legend_1">
    <g id="patch_13">
     <path d="M 77.6 136.5975 
L 166.85125 136.5975 
Q 168.45125 136.5975 168.45125 134.9975 
L 168.45125 57.44 
Q 168.45125 55.84 166.85125 55.84 
L 77.6 55.84 
Q 76 55.84 76 57.44 
L 76 134.9975 
Q 76 136.5975 77.6 136.5975 
z
" style="fill: #ffffff; opacity: 0.8; stroke: #cccccc; stroke-linejoin: miter"/>
    </g>
<g id="preview">
    <g id="patch_14">
     <path d="M 80.375 88.4125 
L 162.265 88.4125 
Q 167.065 88.4125 167.065 83.6125 
L 167.065 68.1275 
Q 167.065 63.3275 162.265 63.3275 
L 80.375 63.3275 
Q 75.575 63.3275 75.575 68.1275 
L 75.575 83.6125 
Q 75.575 88.4125 80.375 88.4125 
L 80.375 88.4125 
z
" style="fill: none; opacity: 0.24; stroke: #ff0000; stroke-linejoin: miter"/>
    </g>
    <text style="font-weight: 700; font-size: 16px; font-family: 'DejaVu Sans', 'Bitstream Vera Sans', 'Computer Modern Sans Serif', 'Lucida Grande', 'Verdana', 'Geneva', 'Lucid', 'Arial', 'Helvetica', 'Avant Garde', sans-serif; text-anchor: middle; fill: #ff0000; opacity: 0.18" x="121.32" y="80.285" transform="rotate(-0 121.32 80.285)">PREVIEW</text>
   </g>
    <g id="line2d_47">
     <defs>
      <path id="m0d734a385b" d="M 0 2.15 
C 0.570187 2.15 1.117097 1.923462 1.52028 1.52028 
C 1.923462 1.117097 2.15 0.570187 2.15 0 
C 2.15 -0.570187 1.923462 -1.117097 1.52028 -1.52028 
C 1.117097 -1.923462 0.570187 -2.15 0 -2.15 
C -0.570187 -2.15 -1.117097 -1.923462 -1.52028 -1.52028 
C -1.923462 -1.117097 -2.15 -0.570187 -2.15 0 
C -2.15 0.570187 -1.923462 1.117097 -1.52028 1.52028 
C -1.117097 1.923462 -0.570187 2.15 0 2.15 
z
" style="stroke: #eb2328"/>
     </defs>
     <g>
      <use href="#m0d734a385b" x="87.2" y="62.31875" style="fill: #eb2328; stroke: #eb2328"/>
     </g>
    </g>
    <g id="text_23">
     <text style="font-size: 8px; font-family: 'DejaVu Sans', 'Bitstream Vera Sans', 'Computer Modern Sans Serif', 'Lucida Grande', 'Verdana', 'Geneva', 'Lucid', 'Arial', 'Helvetica', 'Avant Garde', sans-serif; text-anchor: start" x="101.6" y="65.11875" transform="rotate(-0 101.6 65.11875)">Arthur Burns</text>
    </g>
    <g id="line2d_48">
     <defs>
      <path id="m9ae7316d16" d="M 0 2.15 
C 0.570187 2.15 1.117097 1.923462 1.52028 1.52028 
C 1.923462 1.117097 2.15 0.570187 2.15 0 
C 2.15 -0.570187 1.923462 -1.117097 1.52028 -1.52028 
C 1.117097 -1.923462 0.570187 -2.15 0 -2.15 
C -0.570187 -2.15 -1.117097 -1.923462 -1.52028 -1.52028 
C -1.923462 -1.117097 -2.15 -0.570187 -2.15 0 
C -2.15 0.570187 -1.923462 1.117097 -1.52028 1.52028 
C -1.117097 1.923462 -0.570187 2.15 0 2.15 
z
" style="stroke: #5f7d73"/>
     </defs>
     <g>
      <use href="#m9ae7316d16" x="87.2" y="73.42125" style="fill: #5f7d73; stroke: #5f7d73"/>
     </g>
    </g>
    <g id="text_24">
     <text style="font-size: 8px; font-family: 'DejaVu Sans', 'Bitstream Vera Sans', 'Computer Modern Sans Serif', 'Lucida Grande', 'Verdana', 'Geneva', 'Lucid', 'Arial', 'Helvetica', 'Avant Garde', sans-serif; text-anchor: start" x="101.6" y="76.22125" transform="rotate(-0 101.6 76.22125)">William Miller</text>
    </g>
    <g id="line2d_49">
     <defs>
      <path id="m55f726c2ac" d="M 0 2.15 
C 0.570187 2.15 1.117097 1.923462 1.52028 1.52028 
C 1.923462 1.117097 2.15 0.570187 2.15 0 
C 2.15 -0.570187 1.923462 -1.117097 1.52028 -1.52028 
C 1.117097 -1.923462 0.570187 -2.15 0 -2.15 
C -0.570187 -2.15 -1.117097 -1.923462 -1.52028 -1.52028 
C -1.923462 -1.117097 -2.15 -0.570187 -2.15 0 
C -2.15 0.570187 -1.923462 1.117097 -1.52028 1.52028 
C -1.117097 1.923462 -0.570187 2.15 0 2.15 
z
" style="stroke: #6eb469"/>
     </defs>
     <g>
      <use href="#m55f726c2ac" x="87.2" y="84.52375" style="fill: #6eb469; stroke: #6eb469"/>
     </g>
    </g>
    <g id="text_25">
     <text style="font-size: 8px; font-family: 'DejaVu Sans', 'Bitstream Vera Sans', 'Computer Modern Sans Serif', 'Lucida Grande', 'Verdana', 'Geneva', 'Lucid', 'Arial', 'Helvetica', 'Avant Garde', sans-serif; text-anchor: start" x="101.6" y="87.32375" transform="rotate(-0 101.6 87.32375)">Paul Volcker</text>
    </g>
    <g id="line2d_50">
     <defs>
      <path id="m02ef2ee686" d="M 0 2.15 
C 0.570187 2.15 1.117097 1.923462 1.52028 1.52028 
C 1.923462 1.117097 2.15 0.570187 2.15 0 
C 2.15 -0.570187 1.923462 -1.117097 1.52028 -1.52028 
C 1.117097 -1.923462 0.570187 -2.15 0 -2.15 
C -0.570187 -2.15 -1.117097 -1.923462 -1.52028 -1.52028 
C -1.923462 -1.117097 -2.15 -0.570187 -2.15 0 
C -2.15 0.570187 -1.923462 1.117097 -1.52028 1.52028 
C -1.117097 1.923462 -0.570187 2.15 0 2.15 
z
" style="stroke: #9678a0"/>
     </defs>
     <g>
      <use href="#m02ef2ee686" x="87.2" y="95.62625" style="fill: #9678a0; stroke: #9678a0"/>
     </g>
    </g>
    <g id="text_26">
     <text style="font-size: 8px; font-family: 'DejaVu Sans', 'Bitstream Vera Sans', 'Computer Modern Sans Serif', 'Lucida Grande', 'Verdana', 'Geneva', 'Lucid', 'Arial', 'Helvetica', 'Avant Garde', sans-serif; text-anchor: start" x="101.6" y="98.42625" transform="rotate(-0 101.6 98.42625)">Alan Greenspan</text>
    </g>
    <g id="line2d_51">
     <defs>
      <path id="m813d0a702b" d="M 0 2.15 
C 0.570187 2.15 1.117097 1.923462 1.52028 1.52028 
C 1.923462 1.117097 2.15 0.570187 2.15 0 
C 2.15 -0.570187 1.923462 -1.117097 1.52028 -1.52028 
C 1.117097 -1.923462 0.570187 -2.15 0 -2.15 
C -0.570187 -2.15 -1.117097 -1.923462 -1.52028 -1.52028 
C -1.923462 -1.117097 -2.15 -0.570187 -2.15 0 
C -2.15 0.570187 -1.923462 1.117097 -1.52028 1.52028 
C -1.117097 1.923462 -0.570187 2.15 0 2.15 
z
" style="stroke: #e62d28"/>
     </defs>
     <g>
      <use href="#m813d0a702b" x="87.2" y="106.72875" style="fill: #e62d28; stroke: #e62d28"/>
     </g>
    </g>
    <g id="text_27">
     <text style="font-size: 8px; font-family: 'DejaVu Sans', 'Bitstream Vera Sans', 'Computer Modern Sans Serif', 'Lucida Grande', 'Verdana', 'Geneva', 'Lucid', 'Arial', 'Helvetica', 'Avant Garde', sans-serif; text-anchor: start" x="101.6" y="109.52875" transform="rotate(-0 101.6 109.52875)">Ben Bernanke</text>
    </g>
    <g id="line2d_52">
     <defs>
      <path id="m21dd732862" d="M 0 2.15 
C 0.570187 2.15 1.117097 1.923462 1.52028 1.52028 
C 1.923462 1.117097 2.15 0.570187 2.15 0 
C 2.15 -0.570187 1.923462 -1.117097 1.52028 -1.52028 
C 1.117097 -1.923462 0.570187 -2.15 0 -2.15 
C -0.570187 -2.15 -1.117097 -1.923462 -1.52028 -1.52028 
C -1.923462 -1.117097 -2.15 -0.570187 -2.15 0 
C -2.15 0.570187 -1.923462 1.117097 -1.52028 1.52028 
C -1.117097 1.923462 -0.570187 2.15 0 2.15 
z
" style="stroke: #fffa8c"/>
     </defs>
     <g>
      <use href="#m21dd732862" x="87.2" y="117.83125" style="fill: #fffa8c; stroke: #fffa8c"/>
     </g>
    </g>
    <g id="text_28">
     <text style="font-size: 8px; font-family: 'DejaVu Sans', 'Bitstream Vera Sans', 'Computer Modern Sans Serif', 'Lucida Grande', 'Verdana', 'Geneva', 'Lucid', 'Arial', 'Helvetica', 'Avant Garde', sans-serif; text-anchor: start" x="101.6" y="120.63125" transform="rotate(-0 101.6 120.63125)">Janet Yellen</text>
    </g>
    <g id="line2d_53">
     <defs>
      <path id="m71466f9695" d="M 0 2.15 
C 0.570187 2.15 1.117097 1.923462 1.52028 1.52028 
C 1.923462 1.117097 2.15 0.570187 2.15 0 
C 2.15 -0.570187 1.923462 -1.117097 1.52028 -1.52028 
C 1.117097 -1.923462 0.570187 -2.15 0 -2.15 
C -0.570187 -2.15 -1.117097 -1.923462 -1.52028 -1.52028 
C -1.923462 -1.117097 -2.15 -0.570187 -2.15 0 
C -2.15 0.570187 -1.923462 1.117097 -1.52028 1.52028 
C -1.117097 1.923462 -0.570187 2.15 0 2.15 
z
" style="stroke: #aa5528"/>
     </defs>
     <g>
      <use href="#m71466f9695" x="87.2" y="128.93375" style="fill: #aa5528; stroke: #aa5528"/>
     </g>
    </g>
    <g id="text_29">
     <text style="font-size: 8px; font-family: 'DejaVu Sans', 'Bitstream Vera Sans', 'Computer Modern Sans Serif', 'Lucida Grande', 'Verdana', 'Geneva', 'Lucid', 'Arial', 'Helvetica', 'Avant Garde', sans-serif; text-anchor: start" x="101.6" y="131.73375" transform="rotate(-0 101.6 131.73375)">Jerome Powell</text>
    </g>
   </g>
   
  </g>
 </g>
 <defs>
  <clipPath id="pa79f2f6976">
   <rect x="72" y="51.84" width="446.4" height="332.64"/>
  </clipPath>
 </defs>
</svg>

</body></html>
